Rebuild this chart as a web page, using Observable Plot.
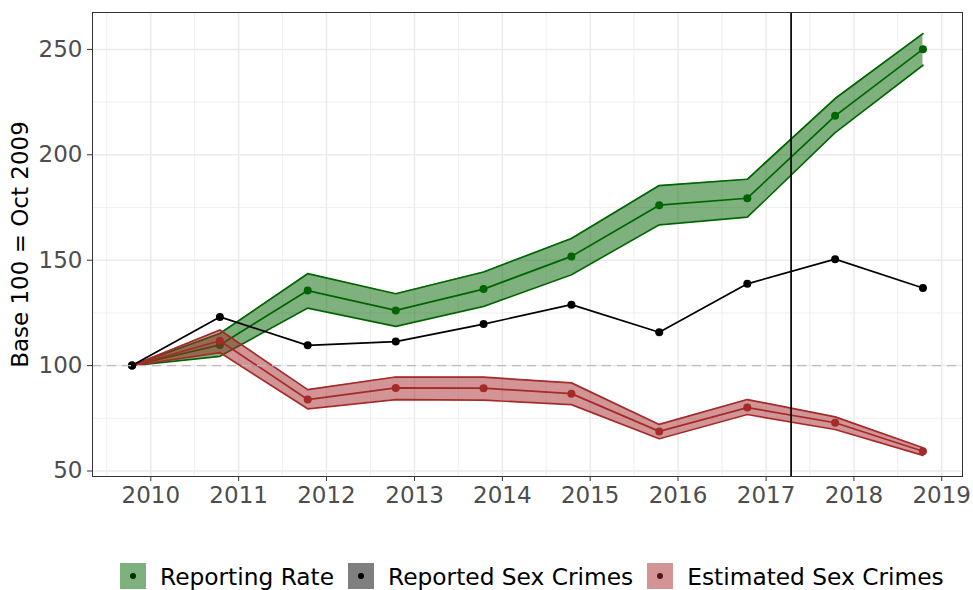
<!DOCTYPE html>
<html><head><meta charset="utf-8">
<script src="https://cdn.jsdelivr.net/npm/d3@7"></script>
<script src="https://cdn.jsdelivr.net/npm/@observablehq/plot@0.6"></script>
<style>
body{margin:0;background:#fff;font-family:"DejaVu Sans",sans-serif;}
#chart{position:relative;width:973px;height:590px;overflow:hidden;}
#legend{position:absolute;left:120px;top:563px;height:26px;display:flex;align-items:center;font-size:23.3px;color:#000;white-space:nowrap;}
.item{display:flex;align-items:center;margin-right:14px;}
.key{width:26px;height:26px;position:relative;margin-right:14px;}
.key span{position:absolute;left:10px;top:10px;width:6px;height:6px;border-radius:50%;}
</style></head>
<body><div id="chart"><div id="legend"></div></div>
<script>
// ---- data ----
const dates = ["2009-10-15","2010-10-15","2011-10-15","2012-10-15","2013-10-15","2014-10-15","2015-10-15","2016-10-15","2017-10-15","2018-10-15"];
const reportingRate     = [100, 109.8, 135.6, 126.2, 136.3, 151.8, 176.1, 179.4, 218.5, 250.1];
const reportingRateLow  = [100, 104.4, 127.3, 118.6, 128.1, 143.1, 166.8, 170.4, 210.5, 242.5];
const reportingRateHigh = [100, 115.2, 143.6, 134.1, 144.4, 160.3, 185.4, 188.4, 226.7, 257.5];
const reportedCrimes    = [100, 123.1, 109.6, 111.4, 119.7, 128.9, 115.8, 138.8, 150.5, 136.8];
const estimatedCrimes     = [100, 111.8, 83.9, 89.4, 89.3, 86.7, 68.8, 80.1, 72.9, 59.4];
const estimatedCrimesLow  = [100, 106.2, 79.5, 83.9, 83.6, 81.5, 65.3, 76.8, 69.7, 57.4];
const estimatedCrimesHigh = [100, 116.9, 88.6, 94.6, 94.5, 91.8, 72.1, 83.9, 75.7, 61.0];
const seriesNames = ["Reporting Rate", "Reported Sex Crimes", "Estimated Sex Crimes"];
const yearTicks = [2010, 2011, 2012, 2013, 2014, 2015, 2016, 2017, 2018, 2019];
const yTicks = [50, 100, 150, 200, 250];
const yMinorTicks = [75, 125, 175, 225];
const baseline = 100;
const policyDate = "2017-04-15";
const yTitle = "Base 100 = Oct 2009";

// ---- build ----
const parse = d3.utcParse("%Y-%m-%d");
const rows = dates.map((d, i) => ({
  date: parse(d),
  rr: reportingRate[i], rrLow: reportingRateLow[i], rrHigh: reportingRateHigh[i],
  rep: reportedCrimes[i],
  est: estimatedCrimes[i], estLow: estimatedCrimesLow[i], estHigh: estimatedCrimesHigh[i]
}));
const [t0, t1] = d3.extent(rows, d => d.date);
const tpad = (t1 - t0) * 0.05;
const xDomain = [new Date(+t0 - tpad), new Date(+t1 + tpad)];
const allY = rows.flatMap(d => [d.rrLow, d.rrHigh, d.rep, d.estLow, d.estHigh]);
const [y0, y1] = d3.extent(allY);
const ypad = (y1 - y0) * 0.05;
const yDomain = [y0 - ypad, y1 + ypad];

const majorX = yearTicks.map(y => new Date(Date.UTC(y, 0, 1)));
const minorX = [yearTicks[0] - 1, ...yearTicks].map(y => new Date(Date.UTC(y, 6, 2)))
  .filter(d => d >= xDomain[0] && d <= xDomain[1]);

const GREEN = "#006400", RED = "#a52a2a";
const grid = "#ebebeb";

const plot = Plot.plot({
  width: 973, height: 520,
  marginLeft: 92, marginRight: 11, marginTop: 12, marginBottom: 44,
  style: {fontFamily: "DejaVu Sans, sans-serif", background: "white"},
  x: {type: "utc", domain: xDomain},
  y: {domain: yDomain},
  marks: [
    Plot.gridX(minorX, {stroke: grid, strokeOpacity: 1, strokeWidth: 0.8}),
    Plot.gridY(yMinorTicks, {stroke: grid, strokeOpacity: 1, strokeWidth: 0.8}),
    Plot.gridX(majorX, {stroke: grid, strokeOpacity: 1, strokeWidth: 1.5}),
    Plot.gridY(yTicks, {stroke: grid, strokeOpacity: 1, strokeWidth: 1.5}),
    // Reporting rate
    Plot.areaY(rows, {x: "date", y1: "rrLow", y2: "rrHigh", fill: GREEN, fillOpacity: 0.5}),
    Plot.lineY(rows, {x: "date", y: "rrLow", stroke: GREEN, strokeWidth: 1.7}),
    Plot.lineY(rows, {x: "date", y: "rrHigh", stroke: GREEN, strokeWidth: 1.7}),
    Plot.lineY(rows, {x: "date", y: "rr", stroke: GREEN, strokeWidth: 1.7}),
    Plot.dot(rows, {x: "date", y: "rr", fill: GREEN, r: 4}),
    // Estimated
    Plot.areaY(rows, {x: "date", y1: "estLow", y2: "estHigh", fill: RED, fillOpacity: 0.5}),
    Plot.lineY(rows, {x: "date", y: "estLow", stroke: RED, strokeWidth: 1.7}),
    Plot.lineY(rows, {x: "date", y: "estHigh", stroke: RED, strokeWidth: 1.7}),
    Plot.lineY(rows, {x: "date", y: "est", stroke: RED, strokeWidth: 1.7}),
    Plot.dot(rows, {x: "date", y: "est", fill: RED, r: 4}),
    // Reported
    Plot.lineY(rows, {x: "date", y: "rep", stroke: "black", strokeWidth: 1.7}),
    Plot.dot(rows, {x: "date", y: "rep", fill: "black", r: 4}),
    Plot.ruleY([baseline], {stroke: "#bdbdbd", strokeWidth: 1.4, strokeDasharray: "9,6"}),
    Plot.ruleX([parse(policyDate)], {stroke: "black", strokeWidth: 1.7}),
    Plot.frame({stroke: "#333333", strokeWidth: 1}),
    Plot.axisX(majorX, {tickFormat: d3.utcFormat("%Y"), fontSize: 23, fill: "#4d4d4d", stroke: "#333333", tickSize: 5, tickPadding: 5, label: null}),
    Plot.axisY(yTicks, {fontSize: 23, fill: "#4d4d4d", stroke: "#333333", tickSize: 5, tickPadding: 5, label: null}),
    Plot.text([yTitle], {text: d => d, frameAnchor: "left", textAnchor: "middle", lineAnchor: "middle", rotate: -90, dx: -72, fontSize: 23, fill: "black"})
  ]
});
document.getElementById("chart").prepend(plot);

// legend
const legendFill = ["rgba(0,100,0,0.5)", "rgba(0,0,0,0.5)", "rgba(165,42,42,0.5)"];
const legendDot = ["#003200", "#000000", "#521515"];
const legend = document.getElementById("legend");
seriesNames.forEach((name, i) => {
  const item = document.createElement("div");
  item.className = "item";
  const key = document.createElement("div");
  key.className = "key";
  key.style.background = legendFill[i];
  const dot = document.createElement("span");
  dot.style.background = legendDot[i];
  key.appendChild(dot);
  const label = document.createElement("span");
  label.textContent = name;
  item.appendChild(key);
  item.appendChild(label);
  legend.appendChild(item);
});
</script>
</body></html>
